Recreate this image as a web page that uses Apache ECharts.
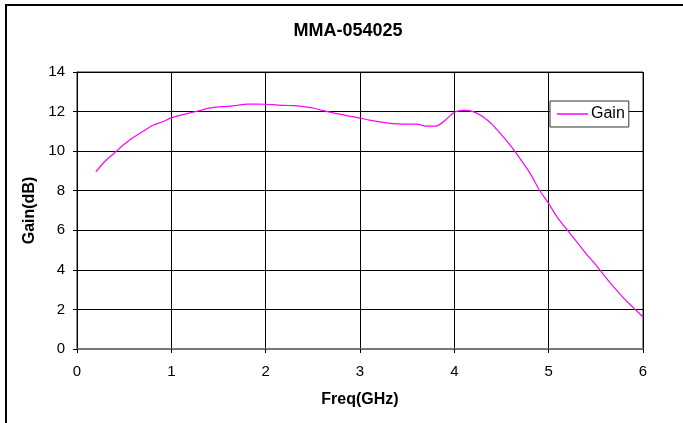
<!DOCTYPE html>
<html>
<head>
<meta charset="utf-8">
<script src="https://cdn.jsdelivr.net/npm/echarts@6/dist/echarts.min.js"></script>
<style>html,body{margin:0;padding:0;background:#fff}#c{width:683px;height:423px}</style>
</head>
<body>
<div id="c"></div>
<script>
var chartTitle = 'MMA-054025';
var seriesName = 'Gain';
var xAxisName = 'Freq(GHz)';
var yAxisName = 'Gain(dB)';
var freq = [0.2,0.3,0.4,0.5,0.6,0.7,0.8,0.9,1.0,1.1,1.2,1.3,1.4,1.5,1.6,1.7,1.8,1.9,2.0,2.1,2.2,2.3,2.4,2.5,2.6,2.7,2.8,2.9,3.0,3.1,3.2,3.3,3.4,3.5,3.6,3.7,3.8,3.9,4.0,4.1,4.2,4.3,4.4,4.5,4.6,4.7,4.8,4.9,5.0,5.1,5.2,5.3,5.4,5.5,5.6,5.7,5.8,5.9,6.0];
var gain = [8.95,9.5,9.92,10.35,10.7,11.0,11.3,11.47,11.68,11.82,11.93,12.05,12.17,12.24,12.26,12.32,12.38,12.38,12.37,12.34,12.31,12.3,12.25,12.18,12.06,11.95,11.86,11.76,11.67,11.57,11.49,11.42,11.38,11.37,11.37,11.26,11.26,11.55,11.97,12.06,12.0,11.75,11.35,10.82,10.25,9.6,8.9,8.05,7.35,6.6,6.0,5.4,4.8,4.25,3.65,3.08,2.55,2.08,1.62];
var xTicks = [0,1,2,3,4,5,6];
var yTicks = [0,2,4,6,8,10,12,14];

var font = 'Liberation Sans, Arial, sans-serif';
var pts = freq.map(function(f,i){return [f, gain[i]];});
var chart = echarts.init(document.getElementById('c'), null, {renderer:'canvas'});
chart.setOption({
  animation: false,
  backgroundColor: '#fff',
  graphic: [{
    type: 'rect', shape: {x: 6, y: 5, width: 720, height: 460},
    style: {fill: 'none', stroke: '#000', lineWidth: 2}, silent: true, z: -1
  }],
  title: {
    text: chartTitle, left: 348, top: 22, textAlign: 'center', padding: 0,
    textStyle: {fontFamily: font, fontSize: 18, fontWeight: 'bold', color: '#000'}
  },
  legend: {
    data: [{name: seriesName, icon: 'rect'}],
    left: 550, top: 101, orient: 'vertical',
    padding: [5, 4, 5, 7], itemWidth: 31, itemHeight: 1.5, itemGap: 0,
    borderColor: '#333', borderWidth: 1, backgroundColor: '#fff',
    textStyle: {fontFamily: font, fontSize: 16, color: '#000', padding: [0,0,0,-2]}
  },
  grid: {left: 77, top: 72, right: 40, bottom: 74, containLabel: false, outerBoundsMode: 'none',
    show: true, borderColor: '#222', borderWidth: 1, backgroundColor: '#fff'},
  xAxis: {
    type: 'value', min: xTicks[0], max: xTicks[xTicks.length-1], interval: 1,
    name: xAxisName, nameLocation: 'middle', nameGap: 43,
    nameTextStyle: {fontFamily: font, fontSize: 16, fontWeight: 'bold', color: '#000'},
    axisLine: {show: true, onZero: false, lineStyle: {color: '#777', width: 2}},
    axisTick: {show: true, inside: false, length: 4, lineStyle: {color: '#000'}},
    axisLabel: {margin: 15, fontFamily: font, fontSize: 15, color: '#000',
      formatter: function(v){return xTicks.indexOf(v) >= 0 ? String(v) : '';}},
    splitLine: {show: true, lineStyle: {color: '#000', width: 1}}
  },
  yAxis: {
    type: 'value', min: yTicks[0], max: yTicks[yTicks.length-1], interval: 2,
    name: yAxisName, nameLocation: 'middle', nameGap: 39, nameRotate: 90,
    nameTextStyle: {fontFamily: font, fontSize: 16, fontWeight: 'bold', color: '#000'},
    axisLine: {show: true, onZero: false, lineStyle: {color: '#000', width: 1}},
    axisTick: {show: true, inside: false, length: 4, lineStyle: {color: '#000'}},
    axisLabel: {margin: 12, fontFamily: font, fontSize: 15, color: '#000',
      formatter: function(v){return yTicks.indexOf(v) >= 0 ? String(v) : '';}},
    splitLine: {show: true, lineStyle: {color: '#000', width: 1}}
  },
  series: [{
    name: seriesName, type: 'line', data: pts, smooth: 0.3,
    showSymbol: false, symbol: 'none',
    lineStyle: {color: '#FF00FF', width: 1.2},
    itemStyle: {color: '#FF00FF'}
  }]
});
</script>
</body>
</html>
